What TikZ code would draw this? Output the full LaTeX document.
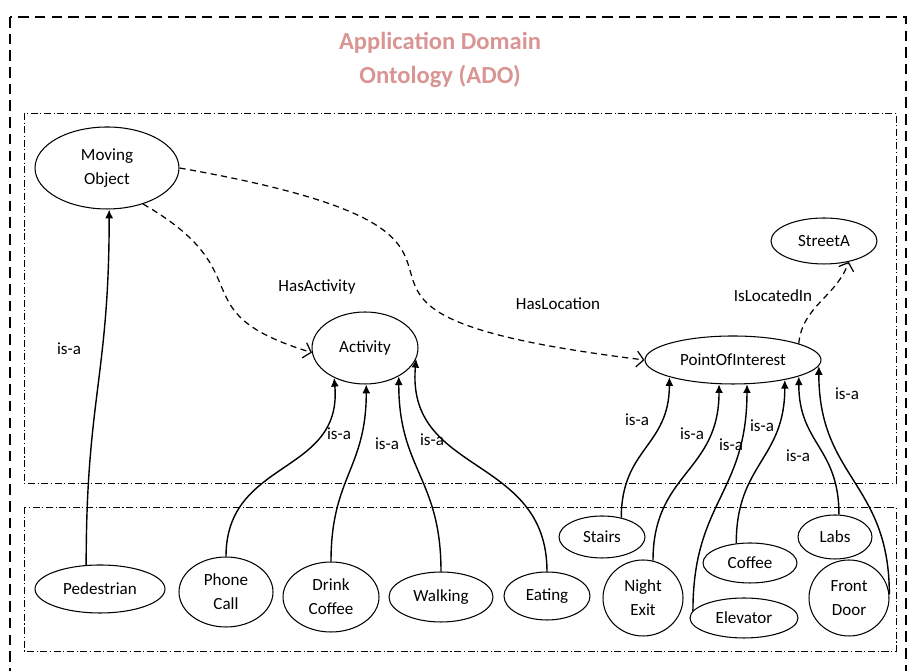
\documentclass[tikz,border=0pt]{standalone}
\usepackage{fontspec}
\setmainfont{Carlito}
\usepackage{tikz}
\usetikzlibrary{arrows.meta,shapes.geometric}
\definecolor{adopink}{RGB}{217,149,148}
\tikzset{
    %Define standard font
    font=\fontsize{9.7}{13.5}\selectfont,
    % Define style for ontology classes
    cls/.style={
           ellipse,
           draw=black, line width=0.6pt,
           inner sep=0pt,
           align=center},
    % Define is-a arrow style
    isa/.style={
           -{Latex[length=5pt,width=4.5pt]},
           looseness=1.2,
           line width=0.8pt},
    % Define relation arrow style
    rel/.style={
           -{Straight Barb[length=4pt,width=9pt]},
           dash pattern=on 3.5pt off 2.5pt,
           line width=0.7pt},
    lbl/.style={inner sep=1pt},
    title/.style={font=\fontsize{14}{19}\selectfont\bfseries, text=adopink, align=center},
    % Define style for boxes
    outerbox/.style={draw=black, line width=1.2pt, dash pattern=on 6pt off 3.5pt},
    layerbox/.style={draw=black, line width=0.5pt, dash pattern=on 4pt off 1.5pt on 0.6pt off 1.5pt}
}

\begin{document}
\begin{tikzpicture}[x=0.02cm, y=0.02cm]
  \useasboundingbox (0,0) rectangle (909,671);
  \clip (0,0) rectangle (909,671);
  % boxes
  \draw[outerbox] (10,654) rectangle (906,-20);
  \draw[layerbox] (24,558) rectangle (896,188);
  \draw[layerbox] (24,164) rectangle (896,20);
  \node[title] (ttl) at (440,611) {Application Domain\\Ontology (ADO)};
  % classes
  \node[cls, minimum width=2.88cm, minimum height=1.64cm] (mo) at (107,503) {Moving\\Object};
  \node[cls, minimum width=2.12cm, minimum height=1.44cm] (act) at (365,323) {Activity};
  \node[cls, minimum width=3.52cm, minimum height=0.96cm] (poi) at (733,311) {PointOfInterest};
  \node[cls, minimum width=2.12cm, minimum height=0.92cm] (street) at (824,430) {StreetA};
  % instances
  \node[cls, minimum width=2.6cm, minimum height=0.96cm] (ped) at (100,82) {Pedestrian};
  \node[cls, minimum width=1.88cm, minimum height=1.4cm] (call) at (226,79) {Phone\\Call};
  \node[cls, minimum width=1.92cm, minimum height=1.4cm] (drink) at (331,74) {Drink\\Coffee};
  \node[cls, minimum width=2.08cm, minimum height=1.0cm] (walk) at (441,74) {Walking};
  \node[cls, minimum width=1.72cm, minimum height=0.96cm] (eat) at (547,75) {Eating};
  \node[cls, minimum width=1.72cm, minimum height=0.84cm] (stairs) at (602,134) {Stairs};
  \node[cls, minimum width=1.6cm, minimum height=1.52cm] (exit) at (643,73) {Night\\Exit};
  \node[cls, minimum width=1.88cm, minimum height=0.8cm] (coffee) at (750,108) {Coffee};
  \node[cls, minimum width=2.16cm, minimum height=0.8cm] (elev) at (744,53) {Elevator};
  \node[cls, minimum width=1.48cm, minimum height=0.88cm] (labs) at (835,134) {Labs};
  \node[cls, minimum width=1.6cm, minimum height=1.52cm] (door) at (849,73) {Front\\Door};
  % relations
  \draw[rel] (mo.-45) to[out=-30, in=163, looseness=1.6] (act.185);
  \draw[rel] (mo.east) to[out=-10, in=173, looseness=2.2] (poi.west);
  \draw[rel] (poi.14) to[out=85, in=-110] (street.-40);
  \node[lbl] (hasact) at (317,384) {HasActivity};
  \node[lbl] (hasloc) at (558,367) {HasLocation};
  \node[lbl] (locin) at (773,375) {IsLocatedIn};
  % is-a links
  \draw[isa] (ped.120) to[out=90, in=-90] (mo.-87);
  \draw[isa] (call.north) to[out=90, in=-85] (act.-136);
  \draw[isa] (drink.north) to[out=90, in=-90] (act.-88);
  \draw[isa] (walk.north) to[out=90, in=-90] (act.-40);
  \draw[isa] (eat.north) to[out=90, in=-95] (act.-12);
  \draw[isa] (stairs.45) to[out=90, in=-90] (poi.-165);
  \draw[isa] (exit.75) to[out=90, in=-90] (poi.-120);
  \draw[isa] (elev.172) to[out=90, in=-90] (poi.-60);
  \draw[isa] (coffee.125) to[out=90, in=-90] (poi.-21);
  \draw[isa] (labs.80) to[out=90, in=-90] (poi.-14);
  \draw[isa] (door.5) to[out=90, in=-90] (poi.-4);
  \node[lbl] (isa1) at (69,322) {is-a};
  \node[lbl] (isa2) at (339,237) {is-a};
  \node[lbl] (isa3) at (387,227) {is-a};
  \node[lbl] (isa4) at (432,231) {is-a};
  \node[lbl] (isa5) at (637,251) {is-a};
  \node[lbl] (isa6) at (692,237) {is-a};
  \node[lbl] (isa7) at (731,226) {is-a};
  \node[lbl] (isa8) at (762,245) {is-a};
  \node[lbl] (isa9) at (798,215) {is-a};
  \node[lbl] (isa10) at (847,277) {is-a};
\end{tikzpicture}
\end{document}
